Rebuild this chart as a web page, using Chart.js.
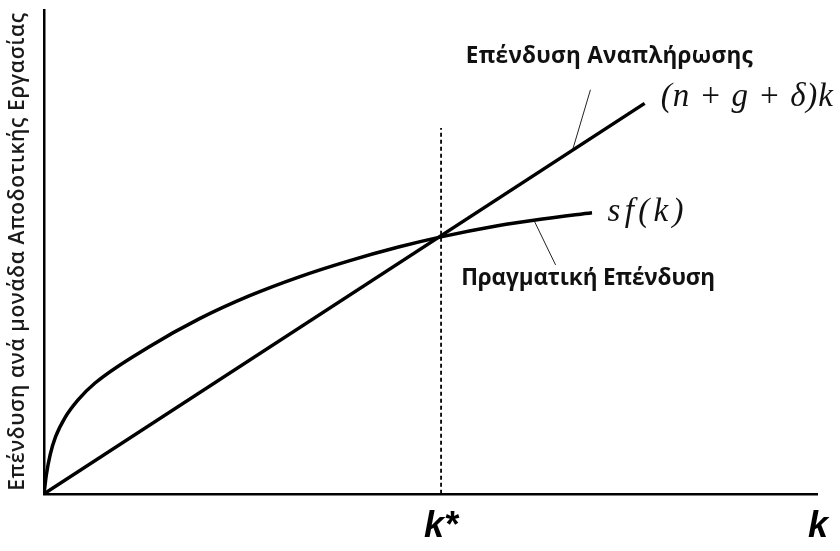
<!DOCTYPE html>
<html>
<head>
<meta charset="utf-8">
<script src="https://cdn.jsdelivr.net/npm/chart.js@4"></script>
<style>
  html, body { margin: 0; padding: 0; background: #fff; }
  canvas { display: block; }
</style>
</head>
<body>
<canvas id="solow" width="840" height="551"></canvas>
<script>
// capital per effective worker (k) and actual investment sf(k)
const kGrid = [0, 0.03, 0.08, 0.15, 0.27, 0.44, 0.66, 1.36, 2.01, 2.65, 3.29, 3.93, 4.58, 5.13, 5.86, 6.44, 7.08];
const actualInvestment = [0, 0.39, 0.81, 1.18, 1.57, 1.94, 2.29, 3.04, 3.62, 4.09, 4.48, 4.81, 5.10, 5.31, 5.54, 5.68, 5.81];

// break-even investment (n+g+δ)k, a straight line
const breakEvenK = [0, 7.76];
const breakEvenInvestment = [0, 8.07];

// steady state and axis ranges
const kStar = 5.13;
const kStarLineTop = 7.56;
const kMax = 10;
const investMax = 10;
const xTickLabels = ['k*', 'k'];
const yTitle = 'Επένδυση ανά μονάδα Αποδοτικής Εργασίας';

// thin leader lines from the curve names to the curves
const leaderReplacement = [[6.83, 7.11], [7.06, 8.35]];
const leaderActual = [[6.34, 5.62], [6.61, 4.73]];

function toPoints(xs, ys) {
    return xs.map((x, i) => ({ x: x, y: ys[i] }));
}

function pairPoints(pairs) {
    return pairs.map(p => ({ x: p[0], y: p[1] }));
}

// text placed in data coordinates, fitted to a given width in px
const notes = [
    { text: 'Επένδυση Αναπλήρωσης', k: 5.45, v: 9.03, font: 'bold 22.5px "Open Sans"', width: 287 },
    { text: 'Πραγματική Επένδυση', k: 5.39, v: 4.44, font: 'bold 22.5px "Open Sans"', width: 254 },
    { text: '(n + g + δ)k', k: 7.97, v: 8.20, font: 'italic 33px "Liberation Serif"', width: 172 },
    { text: 'sf(k)', k: 7.28, v: 5.81, font: 'italic 33px "Liberation Serif"', width: 76 }
];

// adjust letter spacing so the string covers `width` px
function drawSpread(ctx, text, x, y, width) {
    const n = [...text].length;
    if ('letterSpacing' in ctx) {
        ctx.letterSpacing = '0px';
        const w = ctx.measureText(text).width;
        const gap = n > 1 ? (width - w) / (n - 1) : 0;
        ctx.letterSpacing = gap.toFixed(2) + 'px';
        ctx.fillText(text, x, y);
        ctx.letterSpacing = '0px';
    } else {
        const w = ctx.measureText(text).width;
        ctx.save();
        ctx.translate(x, y);
        ctx.scale(width / w, 1);
        ctx.fillText(text, 0, 0);
        ctx.restore();
    }
}

const notesPlugin = {
    id: 'notes',
    afterDatasetsDraw(chart) {
        const ctx = chart.ctx;
        const xs = chart.scales.x;
        const ys = chart.scales.y;
        const area = chart.chartArea;
        ctx.save();
        ctx.fillStyle = '#111';
        ctx.textAlign = 'left';
        ctx.textBaseline = 'middle';
        notes.forEach(n => {
            ctx.font = n.font;
            drawSpread(ctx, n.text, xs.getPixelForValue(n.k), ys.getPixelForValue(n.v), n.width);
        });

        // y-axis title, rotated, running the full height of the axis
        ctx.save();
        ctx.translate(area.left - 26, (area.top + area.bottom) / 2);
        ctx.rotate(-Math.PI / 2);
        ctx.font = '600 21px "Open Sans"';
        ctx.fillStyle = '#1a1a1a';
        const len = area.bottom - area.top - 6;
        drawSpread(ctx, yTitle, -len / 2, 0, len);
        ctx.restore();
        ctx.restore();
    }
};

const ctx = document.getElementById('solow').getContext('2d');
new Chart(ctx, {
    type: 'scatter',
    data: {
        datasets: [{
            label: 'sf(k)',
            data: toPoints(kGrid, actualInvestment),
            showLine: true,
            borderColor: '#000',
            borderWidth: 3.5,
            pointRadius: 0,
            cubicInterpolationMode: 'monotone'
        }, {
            label: '(n+g+δ)k',
            data: toPoints(breakEvenK, breakEvenInvestment),
            showLine: true,
            borderColor: '#000',
            borderWidth: 3.5,
            pointRadius: 0
        }, {
            label: 'k*',
            data: [{ x: kStar, y: 0 }, { x: kStar, y: kStarLineTop }],
            showLine: true,
            borderColor: '#000',
            borderWidth: 1.8,
            borderDash: [4, 3],
            pointRadius: 0
        }, {
            label: 'leader-1',
            data: pairPoints(leaderReplacement),
            showLine: true,
            borderColor: '#222',
            borderWidth: 1,
            pointRadius: 0
        }, {
            label: 'leader-2',
            data: pairPoints(leaderActual),
            showLine: true,
            borderColor: '#222',
            borderWidth: 1,
            pointRadius: 0
        }]
    },
    options: {
        responsive: false,
        animation: false,
        devicePixelRatio: 1,
        // the k labels hang below the axis, so the bottom edge is pulled in
        layout: { padding: { left: 44, right: 18, top: 10, bottom: -10 } },
        plugins: {
            legend: { display: false },
            tooltip: { enabled: false }
        },
        scales: {
            x: {
                type: 'linear',
                min: 0,
                max: kMax,
                grid: { display: false, drawTicks: false, tickLength: 0 },
                border: { display: true, color: '#000', width: 2.5 },
                afterBuildTicks: scale => {
                    scale.ticks = [{ value: kStar }, { value: kMax }];
                },
                ticks: {
                    autoSkip: false,
                    maxRotation: 0,
                    padding: 12,
                    color: '#000',
                    font: { family: 'Liberation Sans', size: 36, weight: 'bold', style: 'italic' },
                    callback: (value, index) => xTickLabels[index]
                }
            },
            y: {
                type: 'linear',
                min: 0,
                max: investMax,
                grid: { display: false, drawTicks: false, tickLength: 0 },
                border: { display: true, color: '#000', width: 2.5 },
                ticks: { display: false }
            }
        }
    },
    plugins: [notesPlugin]
});
</script>
</body>
</html>
